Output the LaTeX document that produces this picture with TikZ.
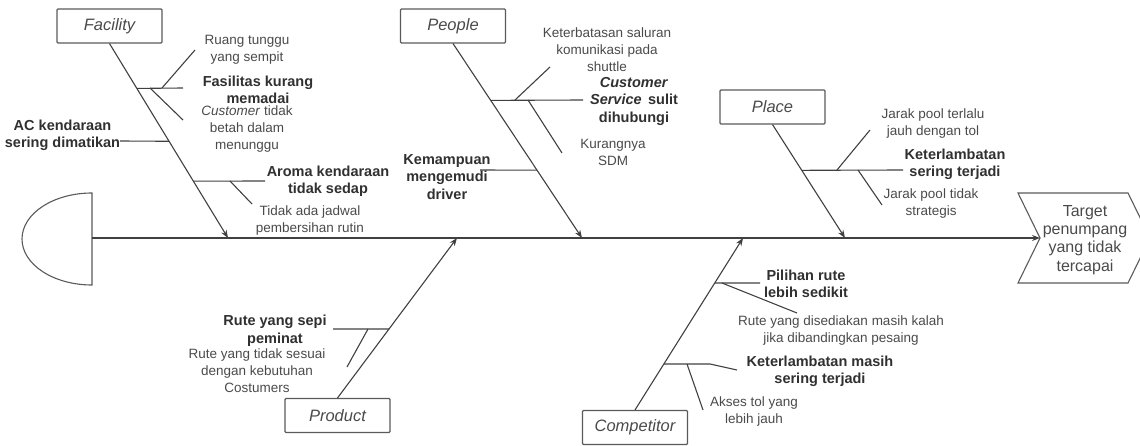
\documentclass[tikz,border=0pt]{standalone}
\usepackage{fontspec}
\setmainfont{Liberation Sans}
\usetikzlibrary{arrows.meta,calc}
\definecolor{linec}{HTML}{404040}
\definecolor{txtc}{HTML}{4A4A4A}
\definecolor{btxtc}{HTML}{303030}
\definecolor{boxc}{HTML}{5A5A5A}
\begin{document}
\begin{tikzpicture}[x=1pt,y=-1pt,
  bone/.style={draw=linec, line width=1.1pt},
  mainarrow/.style={bone, -{Stealth[length=8pt,width=6pt]}},
  catbox/.style={draw=boxc, line width=1.1pt, rounded corners=1pt, minimum width=105pt, minimum height=34pt, inner sep=0pt, font=\fontsize{16.5}{18}\selectfont\itshape, text=txtc},
  lbl/.style={font=\fontsize{13.5}{17}\selectfont, text=txtc, align=center, inner sep=0pt},
  blbl/.style={font=\fontsize{14.5}{17.5}\selectfont\bfseries, text=btxtc, align=center, inner sep=0pt},
  shapeline/.style={draw=boxc, line width=1.1pt}
]
\useasboundingbox (0,0) rectangle (1140,446);

% head
\draw[shapeline, fill=white] (92,193) .. controls (53.3,193) and (22,213.6) .. (22,239) .. controls (22,264.4) and (53.3,285) .. (92,285) -- cycle;
\coordinate (head) at (92,238);

% target
\begin{scope}
\clip (0,0) rectangle (1140,446);
\draw[shapeline] (1018,193) -- (1128,193) -- (1150,238) -- (1128,283) -- (1018,283) -- (1040,238) -- cycle;
\end{scope}
\node[lbl, font=\fontsize{16}{18.3}\selectfont] (target) at (1085,240) {Target\\penumpang\\yang tidak\\tercapai};
\coordinate (tip) at (1040,238);
\draw[mainarrow] (head) -- (tip);

% category boxes
\node[catbox] (facility) at (109.5,26) {Facility};
\node[catbox] (people) at (453,26) {People};
\node[catbox] (place) at (772.5,107) {Place};
\node[catbox] (product) at (337.5,415.5) {Product};
\node[catbox] (competitor) at (635,427.5) {Competitor};

% spine endpoints
\coordinate (fE) at (228,238);
\coordinate (pE) at (582,238);
\coordinate (plE) at (845,238);
\coordinate (prE) at (457,238);
\coordinate (cE) at (743,238);

\draw[mainarrow] (facility.south) -- (fE);
\draw[mainarrow] (people.south) -- (pE);
\draw[mainarrow] (place.south) -- (plE);
\draw[mainarrow] (product.north) -- (prE);
\draw[mainarrow] (competitor.north) -- (cE);

% facility sub-branches
\coordinate (f1) at ($(facility.south)!0.2308!(fE)$);
\coordinate (f2) at ($(facility.south)!0.5026!(fE)$);
\coordinate (f3) at ($(facility.south)!0.7077!(fE)$);
\coordinate (f1e) at (183,88);
\coordinate (f1a) at (162,88);
\coordinate (f1ae) at (195,50);
\coordinate (f1b) at (150,88);
\coordinate (f1be) at (183,120);
\coordinate (f2e) at (120,141);
\coordinate (f3e) at (265,181);
\coordinate (f3a) at (230,181);
\coordinate (f3ae) at (252,204);
\draw[bone] (f1) -- (f1e);
\draw[bone] (f1a) -- (f1ae);
\draw[bone] (f1b) -- (f1be);
\draw[bone] (f2e) -- (f2);
\draw[bone] (f3) -- (f3e);
\draw[bone] (f3a) -- (f3ae);

% people sub-branches
\coordinate (p1) at ($(people.south)!0.2923!(pE)$);
\coordinate (p2) at ($(people.south)!0.6513!(pE)$);
\coordinate (p1e) at (583,100);
\coordinate (p1a) at (515,100);
\coordinate (p1ae) at (550,67);
\coordinate (p1b) at (528,100);
\coordinate (p1be) at (562,153);
\coordinate (p2e) at (480,170);
\draw[bone] (p1) -- (p1e);
\draw[bone] (p1a) -- (p1ae);
\draw[bone] (p1b) -- (p1be);
\draw[bone] (p2e) -- (p2);

% place sub-branches
\coordinate (pl1) at ($(place.south)!0.4035!(plE)$);
\coordinate (pl1e) at (903,170);
\coordinate (pl1a) at (837,170);
\coordinate (pl1ae) at (870,130);
\coordinate (pl1b) at (858,170);
\coordinate (pl1be) at (882,205);
\draw[bone] (pl1) -- (pl1e);
\draw[bone] (pl1a) -- (pl1ae);
\draw[bone] (pl1b) -- (pl1be);

% product sub-branches
\coordinate (pr1) at ($(product.north)!0.43125!(prE)$);
\coordinate (pr1e) at (333,329);
\coordinate (pr1a) at (368,329);
\coordinate (pr1ae) at (347,367);
\draw[bone] (pr1e) -- (pr1);
\draw[bone] (pr1a) -- (pr1ae);

% competitor sub-branches
\coordinate (c1) at ($(competitor.north)!0.7384!(cE)$);
\coordinate (c2) at ($(competitor.north)!0.2674!(cE)$);
\coordinate (c1e) at (760,283);
\coordinate (c1a) at (722,283);
\coordinate (c1ae) at (797,313);
\coordinate (c2m) at (710,364);
\coordinate (c2e) at (737,370);
\coordinate (c2a) at (687,364);
\coordinate (c2ae) at (703,410);
\draw[bone] (c1) -- (c1e);
\draw[bone] (c1a) -- (c1ae);
\draw[bone] (c2) -- (c2m) -- (c2e);
\draw[bone] (c2a) -- (c2ae);

% labels
\node[lbl] (lruang) at (247,50) {Ruang tunggu\\yang sempit};
\node[blbl] (lfas) at (258,90) {Fasilitas kurang\\memadai};
\node[lbl] (lcust) at (247,129) {\textit{Customer} tidak\\betah dalam\\menunggu};
\node[blbl] (lac) at (62.5,135.5) {AC kendaraan\\sering dimatikan};
\node[blbl] (laroma) at (328,181.5) {Aroma kendaraan\\tidak sedap};
\node[lbl] (ljadwal) at (310,221) {Tidak ada jadwal\\pembersihan rutin};
\node[lbl] (lketer) at (607,50) {Keterbatasan saluran\\komunikasi pada\\shuttle};
\node[blbl] (lcs) at (634,101) {\textit{Customer}\\\textit{Service}\, sulit\\dihubungi};
\node[lbl] (lsdm) at (613,152) {Kurangnya\\SDM};
\node[blbl] (lkem) at (447,177) {Kemampuan\\mengemudi\\driver};
\node[lbl] (ljarak) at (933,124) {Jarak pool terlalu\\jauh dengan tol};
\node[blbl] (lkt) at (955,164.5) {Keterlambatan\\sering terjadi};
\node[lbl] (ljarakb) at (931,204) {Jarak pool tidak\\strategis};
\node[blbl] (lrute) at (275,331) {Rute yang sepi\\peminat};
\node[lbl] (lruteb) at (257,371) {Rute yang tidak sesuai\\dengan kebutuhan\\Costumers};
\node[blbl] (lpil) at (806,284) {Pilihan rute\\lebih sedikit};
\node[lbl] (ldise) at (841,330.5) {Rute yang disediakan masih kalah\\jika dibandingkan pesaing};
\node[blbl] (lktm) at (820,371.5) {Keterlambatan masih\\sering terjadi};
\node[lbl] (lakses) at (754,412) {Akses tol yang\\lebih jauh};
\end{tikzpicture}
\end{document}
